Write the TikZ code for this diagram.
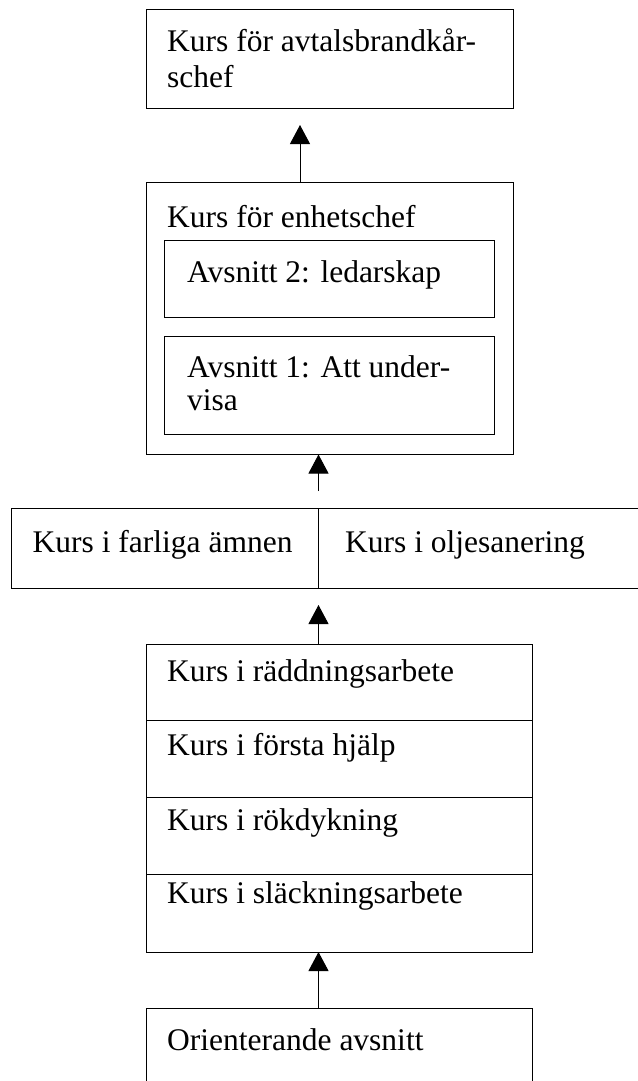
\documentclass[tikz,border=0pt]{standalone}
\usepackage{fontspec}
\setmainfont{Liberation Serif}
\usetikzlibrary{arrows.meta}
\begin{document}
\begin{tikzpicture}[x=1pt,y=-1pt,
  box/.style={draw, line width=1pt, inner sep=0pt, outer sep=0pt, anchor=north west},
  lbl/.style={anchor=base west, inner sep=0pt, font=\fontsize{31.5}{34}\selectfont},
  arr/.style={line width=1pt, -{Triangle[length=19pt,width=20pt]}}]
\useasboundingbox (0,0) rectangle (637,1081);

% course for chief of contracted fire brigade
\node[box, minimum width=367pt, minimum height=98pt] (chief) at (146,10) {};
\node[lbl] (chiefA) at (167,52) {Kurs för avtalsbrandkår-};
\node[lbl] (chiefB) at (167,87) {schef};

% course for unit chief with its two sections
\node[box, minimum width=367pt, minimum height=272pt] (unit) at (146,182.5) {};
\node[lbl] (unitT) at (167,227) {Kurs för enhetschef};
\node[box, minimum width=330pt, minimum height=77pt] (sec2) at (164,240.7) {};
\node[lbl] (sec2T) at (187,282) {Avsnitt 2: ledarskap};
\node[box, minimum width=330pt, minimum height=97.5pt] (sec1) at (164,336.7) {};
\node[lbl] (sec1A) at (187,377) {Avsnitt 1: Att under-};
\node[lbl] (sec1B) at (187,410) {visa};

% hazardous materials / oil spill courses
\node[box, minimum width=307pt, minimum height=80pt] (haz) at (11.5,508) {};
\node[lbl] (hazT) at (32.5,552.7) {Kurs i farliga ämnen};
\node[box, minimum width=341.5pt, minimum height=80pt] (oil) at (318.5,508) {};
\node[lbl] (oilT) at (345,552.7) {Kurs i oljesanering};

% basic courses
\node[box, minimum width=386.5pt, minimum height=76.5pt] (rescue) at (146,644) {};
\node[lbl] (rescueT) at (167,681.7) {Kurs i räddningsarbete};
\node[box, minimum width=386.5pt, minimum height=76.5pt] (aid) at (146,720.5) {};
\node[lbl] (aidT) at (167,755) {Kurs i första hjälp};
\node[box, minimum width=386.5pt, minimum height=77pt] (smoke) at (146,797) {};
\node[lbl] (smokeT) at (167,830) {Kurs i rökdykning};
\node[box, minimum width=386.5pt, minimum height=78pt] (fire) at (146,874) {};
\node[lbl] (fireT) at (167,903) {Kurs i släckningsarbete};

% orientation section
\node[box, minimum width=386.5pt, minimum height=100pt] (orient) at (146,1008) {};
\node[lbl] (orientT) at (167,1050) {Orienterande avsnitt};

% arrows
\coordinate (t1) at (300,125);
\coordinate (s2) at (318.5,491);
\coordinate (t3) at (318.5,605);
\draw[arr] (unit.north -| t1) -- (t1);
\draw[arr] (s2) -- (s2 |- unit.south);
\draw[arr] (t3 |- rescue.north) -- (t3);
\draw[arr] (t3 |- orient.north) -- (t3 |- fire.south);
\end{tikzpicture}
\end{document}
